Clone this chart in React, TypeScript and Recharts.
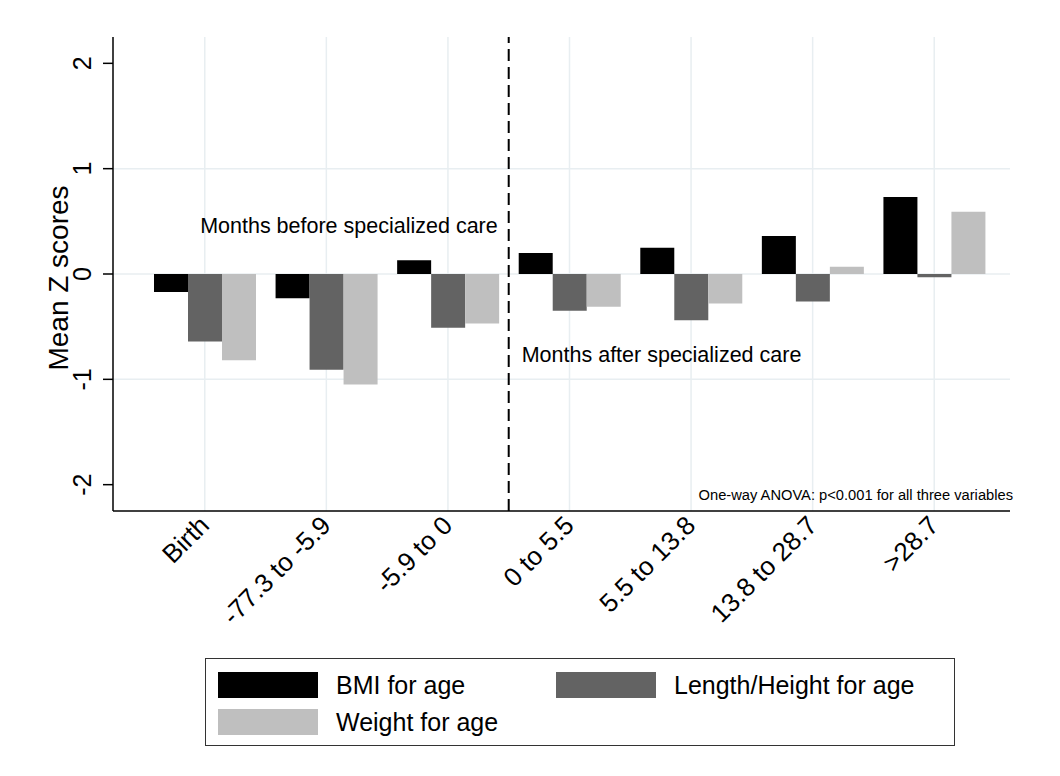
import React from 'react'
import { BarChart, Bar, XAxis, YAxis, CartesianGrid, ReferenceLine, Label } from 'recharts'

// Age windows (months relative to first specialized care visit)
const categories = ['Birth', '-77.3 to -5.9', '-5.9 to 0', '0 to 5.5', '5.5 to 13.8', '13.8 to 28.7', '>28.7']
const bmiForAge = [-0.17, -0.23, 0.13, 0.2, 0.25, 0.36, 0.73]
const heightForAge = [-0.64, -0.91, -0.51, -0.35, -0.44, -0.26, -0.03]
const weightForAge = [-0.82, -1.05, -0.47, -0.31, -0.28, 0.07, 0.59]
const yTicks = [-2, -1, 0, 1, 2]
const gridValues = [-1, 0, 1]
// first category after specialized care starts
const dividerIndex = 3

const series = [
  { key: 'bmi', name: 'BMI for age', color: '#000000' },
  { key: 'height', name: 'Length/Height for age', color: '#636363' },
  { key: 'weight', name: 'Weight for age', color: '#bfbfbf' },
]

const data = categories.map((c, i) => ({
  period: c,
  bmi: bmiForAge[i],
  height: heightForAge[i],
  weight: weightForAge[i],
}))

const FONT = '"Liberation Sans", Arial, Helvetica, sans-serif'
const GRID = '#e8eef1'

function XTick({ x, y, payload }: any) {
  const tx = x + 6
  const ty = y + 14
  return (
    <text x={tx} y={ty} transform={`rotate(-45, ${tx}, ${ty})`} textAnchor="end" fontSize={26} fill="#000" fontFamily={FONT}>
      {payload.value}
    </text>
  )
}

function YTick({ x, y, payload }: any) {
  const tx = x - 10
  return (
    <text x={tx} y={y} transform={`rotate(-90, ${tx}, ${y})`} textAnchor="middle" fontSize={25} fill="#000" fontFamily={FONT}>
      {payload.value}
    </text>
  )
}

function DividerLabels({ viewBox }: any) {
  const { x, y, height } = viewBox
  return (
    <g fontFamily={FONT} fill="#000">
      <text x={x - 11} y={y + 196} textAnchor="end" fontSize={21.5}>
        Months before specialized care
      </text>
      <text x={x + 13} y={y + 325} textAnchor="start" fontSize={21.5}>
        Months after specialized care
      </text>
      <text x={1013} y={y + height - 11} textAnchor="end" fontSize={14.7}>
        One-way ANOVA: p&lt;0.001 for all three variables
      </text>
    </g>
  )
}

function LegendBox() {
  const slots = [
    { left: 217, top: 671 },
    { left: 555, top: 671 },
    { left: 217, top: 708 },
  ]
  return (
    <div
      style={{
        position: 'absolute',
        left: 205,
        top: 658,
        width: 750,
        height: 88,
        border: '1.5px solid #333',
        boxSizing: 'border-box',
      }}
    >
      {series.map((s, i) => (
        <div
          key={s.key}
          style={{ position: 'absolute', left: slots[i].left - 205, top: slots[i].top - 658, display: 'flex', alignItems: 'center' }}
        >
          <span style={{ display: 'inline-block', width: 100, height: 26, background: s.color }} />
          <span style={{ marginLeft: 18, fontSize: 25, fontFamily: FONT, color: '#000', lineHeight: '26px' }}>{s.name}</span>
        </div>
      ))}
    </div>
  )
}

export default function App() {
  return (
    <div style={{ position: 'absolute', left: 0, top: 0, width: 1060, height: 776, background: '#fff', fontFamily: FONT }}>
      <BarChart
        width={1060}
        height={776}
        data={data}
        margin={{ top: 37, right: 50, left: 53, bottom: 165 }}
        barGap={0}
        barSize={34}
      >
        {/* light grid: one vertical line per group, horizontal only at -1, 0, 1 */}
        <CartesianGrid syncWithTicks horizontalValues={gridValues} stroke={GRID} strokeWidth={1.5} />
        <XAxis
          dataKey="period"
          interval={0}
          height={100}
          padding={{ left: 31, right: 15 }}
          tickSize={0}
          tick={<XTick />}
          axisLine={{ stroke: '#000', strokeWidth: 1.5 }}
        />
        <YAxis
          width={60}
          domain={[-2.25, 2.25]}
          ticks={yTicks}
          tickSize={10}
          tick={<YTick />}
          axisLine={{ stroke: '#000', strokeWidth: 1.5 }}
          tickLine={{ stroke: '#000', strokeWidth: 1.5 }}
          allowDataOverflow
        >
          <Label
            content={() => (
              <text x={68} y={278} transform="rotate(-90, 68, 278)" textAnchor="middle" fontSize={28} fontFamily={FONT} fill="#000">
                Mean Z scores
              </text>
            )}
          />
        </YAxis>
        {series.map((s) => (
          <Bar key={s.key} dataKey={s.key} name={s.name} fill={s.color} isAnimationActive={false} />
        ))}
        <ReferenceLine
          x={categories[dividerIndex]}
          position="start"
          stroke="#000"
          strokeWidth={2}
          strokeDasharray="12 6"
          label={(props: any) => <DividerLabels viewBox={props.viewBox} />}
        />
      </BarChart>
      <LegendBox />
    </div>
  )
}
